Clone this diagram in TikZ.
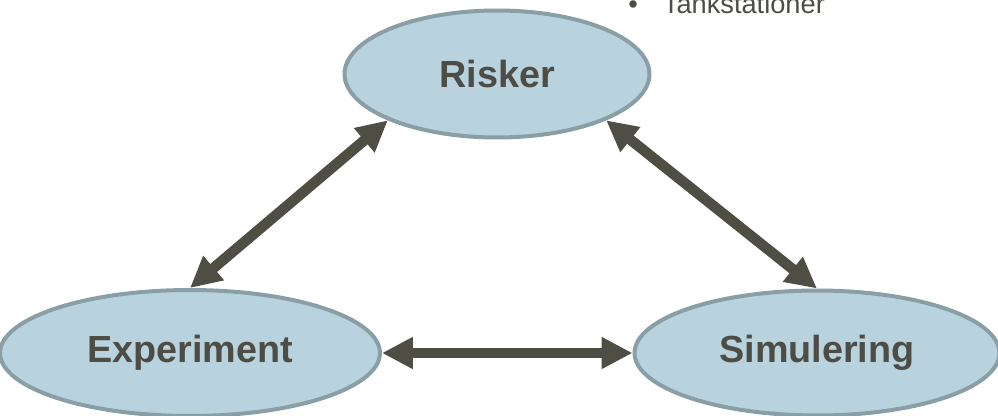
\documentclass[tikz,border=0pt]{standalone}
\usepackage{fontspec}
\setmainfont{Liberation Sans}
\usepackage{tikz}
\usetikzlibrary{shapes.geometric,arrows.meta}

\definecolor{ellfill}{HTML}{B8D3DD}
\definecolor{elldraw}{HTML}{8A9EA6}
\definecolor{arrgray}{HTML}{4F4E45}
\definecolor{txtgray}{HTML}{4D4D45}

\begin{document}
\begin{tikzpicture}[x=0.02cm, y=-0.02cm,
    topic/.style={ellipse, fill=ellfill, draw=elldraw, line width=0.08cm,
        text=txtgray, font=\fontsize{21.5}{24}\selectfont\bfseries, inner sep=0pt},
    link/.style={arrgray, line width=0.21cm,
        {Triangle[length=0.62cm, width=0.6cm]}-{Triangle[length=0.62cm, width=0.6cm]}}]
    \useasboundingbox (0,0) rectangle (998,416);

    % The bullet item cut off at the top
    \node[anchor=base west, text=txtgray, font=\fontsize{15.5}{18}\selectfont, inner sep=0pt] (tank) at (628,13) {\textbullet\hspace{0.5cm}Tankstationer};

    % The three ellipses
    \node[topic, minimum width=6.1cm, minimum height=2.54cm] (risk) at (497,74) {Risker};
    \node[topic, minimum width=7.6cm, minimum height=2.52cm] (exp) at (190,353) {Experiment};
    \node[topic, minimum width=7.3cm, minimum height=2.5cm] (sim) at (817,353) {Simulering};

    % Double arrows between them
    \draw[link] (exp.north) -- (risk.-157);
    \draw[link] (risk.-23) -- (sim.north);
    \draw[link] (exp.east) -- (sim.west);
\end{tikzpicture}
\end{document}
